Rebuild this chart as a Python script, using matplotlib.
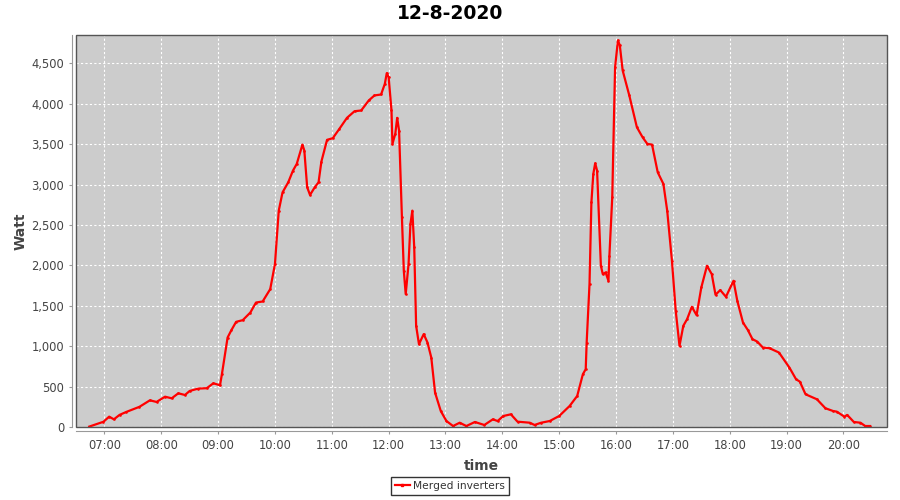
import matplotlib
matplotlib.use("Agg")
import matplotlib.pyplot as plt
import matplotlib.dates as dates
import matplotlib.patches as patches
import matplotlib.ticker as ticker
import datetime

# readings of the merged inverters, 12-8-2020 (10 per row)
times = ["06:44", "06:59", "07:05", "07:10", "07:16", "07:23", "07:37", "07:48", "07:55", "08:04",
         "08:11", "08:18", "08:25", "08:30", "08:39", "08:48", "08:55", "09:02", "09:04", "09:10",
         "09:14", "09:19", "09:26", "09:34", "09:40", "09:47", "09:55", "10:00", "10:04", "10:08",
         "10:14", "10:19", "10:23", "10:29", "10:31", "10:34", "10:37", "10:42", "10:46", "10:49",
         "10:55", "11:01", "11:08", "11:16", "11:24", "11:31", "11:39", "11:45", "11:52", "11:56",
         "11:58", "12:00", "12:03", "12:04", "12:07", "12:09", "12:11", "12:14", "12:16", "12:18",
         "12:21", "12:23", "12:25", "12:27", "12:29", "12:32", "12:37", "12:41", "12:45", "12:49",
         "12:55", "13:01", "13:08", "13:15", "13:22", "13:31", "13:41", "13:50", "13:55", "14:01",
         "14:09", "14:16", "14:29", "14:34", "14:41", "14:50", "15:00", "15:11", "15:19", "15:25",
         "15:28", "15:29", "15:32", "15:34", "15:36", "15:38", "15:40", "15:44", "15:46", "15:49",
         "15:52", "15:53", "15:56", "15:59", "16:02", "16:04", "16:07", "16:14", "16:22", "16:28",
         "16:33", "16:38", "16:44", "16:50", "16:54", "16:59", "17:03", "17:07", "17:11", "17:15",
         "17:20", "17:25", "17:30", "17:36", "17:41", "17:45", "17:50", "17:56", "18:04", "18:08",
         "18:14", "18:19", "18:24", "18:29", "18:35", "18:42", "18:52", "19:03", "19:10", "19:14",
         "19:20", "19:32", "19:41", "19:49", "19:53", "20:01", "20:04", "20:11", "20:18", "20:23",
         "20:28"]
watts = [5, 65, 128, 95, 150, 186, 250, 330, 310, 375,
         355, 417, 396, 446, 475, 480, 541, 516, 653, 1107,
         1198, 1301, 1322, 1416, 1540, 1553, 1706, 2016, 2677, 2903,
         3027, 3172, 3255, 3494, 3420, 2966, 2871, 2966, 3027, 3284,
         3553, 3573, 3689, 3825, 3907, 3916, 4040, 4102, 4114, 4247,
         4378, 4328, 3916, 3503, 3627, 3825, 3668, 2594, 1933, 1644,
         2016, 2512, 2677, 2222, 1252, 1025, 1149, 1045, 859, 425,
         198, 74, 12, 53, 12, 62, 25, 95, 74, 136,
         157, 66, 53, 25, 53, 74, 136, 260, 384, 653,
         715, 1045, 1768, 2780, 3131, 3263, 3172, 1995, 1892, 1912,
         1809, 2119, 2842, 4452, 4783, 4721, 4411, 4102, 3709, 3585,
         3503, 3494, 3151, 3007, 2677, 2057, 1437, 1004, 1252, 1334,
         1487, 1384, 1726, 1995, 1892, 1636, 1694, 1611, 1809, 1561,
         1292, 1202, 1087, 1057, 983, 975, 921, 735, 591, 561,
         405, 343, 232, 198, 190, 128, 149, 62, 53, 12,
         12]

day = datetime.date(2020, 8, 12)
x = [datetime.datetime.combine(day, datetime.datetime.strptime(t, "%H:%M").time()) for t in times]

fig = plt.figure(figsize=(9, 5), dpi=100)
ax = fig.add_axes([76 / 900, 1 - 427 / 500, 811 / 900, 392 / 500])
ax.set_facecolor("#cccccc")

line, = ax.plot(x, watts, color="#ff0000", linewidth=1.6, marker="s", markersize=0.8,
                solid_joinstyle="round", label="Merged inverters")

ax.set_xlim(datetime.datetime(2020, 8, 12, 6, 30), datetime.datetime(2020, 8, 12, 20, 46))
ax.set_ylim(0, 4850)
ax.set_yticks(range(0, 5000, 500))
ax.yaxis.set_major_formatter(ticker.StrMethodFormatter("{x:,.0f}"))
ax.xaxis.set_major_locator(dates.HourLocator())
ax.xaxis.set_major_formatter(dates.DateFormatter("%H:%M"))

ax.grid(True, color="white", linestyle=(0, (2, 2)), linewidth=0.8)
ax.set_axisbelow(True)

# plot outline plus offset axis lines, jfreechart style
for s in ["top", "right"]:
    ax.spines[s].set_visible(False)
for s in ["left", "bottom"]:
    ax.spines[s].set_position(("outward", 3))
    ax.spines[s].set_color("#999999")
ax.add_patch(patches.Rectangle((0, 0), 1, 1, transform=ax.transAxes, fill=False,
                               edgecolor="#555555", linewidth=1, clip_on=False, zorder=5))

ax.tick_params(axis="both", colors="#999999", labelcolor="#444444", labelsize=8.3,
               length=2.5, pad=3)

ax.set_ylabel("Watt", fontsize=10, color="#444444", fontweight="bold", labelpad=3)
ax.set_xlabel("time", fontsize=10, color="#444444", fontweight="bold", labelpad=5)
fig.suptitle("12-8-2020", fontsize=13.5, fontweight="bold", y=0.992)

leg = fig.legend(handles=[line], loc="lower center", bbox_to_anchor=(0.5, 0.0), ncol=1,
                 fontsize=7.7, frameon=True, fancybox=False, edgecolor="black",
                 handlelength=1.4, borderpad=0.35, handletextpad=0.3, markerscale=2)
leg.get_frame().set_linewidth(1)
for t in leg.get_texts():
    t.set_color("#333333")

fig.savefig("out.png", dpi=100)
